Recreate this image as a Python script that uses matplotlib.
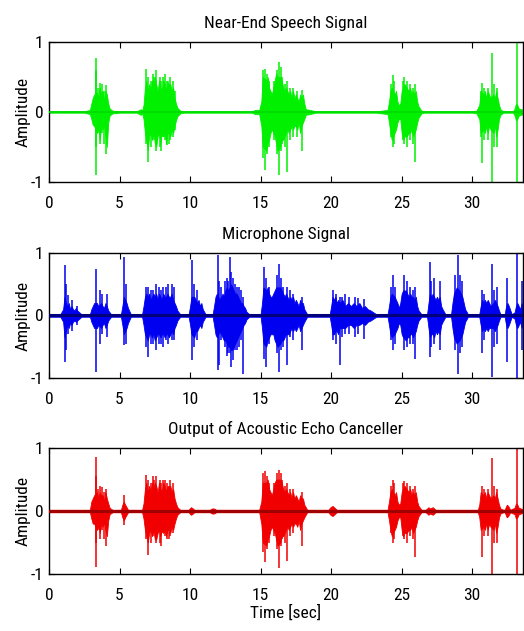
import matplotlib
matplotlib.use("Agg")
import matplotlib.pyplot as plt
from matplotlib import font_manager

# ---------------- data ----------------
x_ticks = [0, 5, 10, 15, 20, 25, 30]
y_ticks = [-1, 0, 1]
x_max = 33.6

titles = ["Near-End Speech Signal", "Microphone Signal", "Output of Acoustic Echo Canceller"]
y_label = "Amplitude"
x_label = "Time [sec]"

# Near-end speech: envelope (time, upper, lower) and isolated peaks
near_t = ([0.0] +
          [2.5, 2.9, 3.0, 3.1, 3.2, 3.4, 3.5, 3.6, 3.7, 3.8, 3.9, 4.0, 4.1, 4.2, 4.3, 4.5, 5.0] +
          [6.2, 6.5, 6.6, 6.7, 6.8, 6.9, 7.0, 7.1, 7.2, 7.3, 7.4, 7.5, 7.6, 7.7, 7.8, 7.9, 8.0, 8.1, 8.2, 8.3,
           8.4, 8.5, 8.6, 8.7, 8.8, 8.9, 9.0, 9.1, 9.3, 9.6] +
          [14.4, 14.6, 14.9, 15.05, 15.15, 15.4, 15.5, 15.6, 15.7, 15.8, 15.9, 16.0, 16.1, 16.2, 16.4, 16.5,
           16.6, 16.7, 16.8, 16.9, 17.0, 17.1, 17.2, 17.3, 17.4, 17.5, 17.6, 17.7, 17.8, 17.9, 18.0, 18.1,
           18.2, 18.5, 18.9] +
          [23.2, 23.6, 24.0, 24.1, 24.2, 24.3, 24.5, 24.6, 24.7, 24.8, 24.9, 25.0, 25.1, 25.2, 25.35, 25.5,
           25.6, 25.7, 25.8, 25.9, 26.0, 26.1, 26.2, 26.4, 26.6] +
          [30.0, 30.3, 30.5, 30.6, 30.8, 30.9, 31.0, 31.1, 31.2, 31.3, 31.5, 31.6, 31.7, 31.8, 31.9, 32.0, 32.2] +
          [32.9, 33.0, 33.1, 33.2, 33.3, 33.6])
near_hi = ([0.01] +
           [0.01, 0.03, 0.12, 0.20, 0.25, 0.28, 0.20, 0.35, 0.25, 0.30, 0.15, 0.30, 0.25, 0.12, 0.05, 0.02, 0.01] +
           [0.01, 0.04, 0.02, 0.10, 0.35, 0.45, 0.30, 0.40, 0.30, 0.45, 0.35, 0.50, 0.40, 0.30, 0.45, 0.35,
            0.30, 0.45, 0.40, 0.30, 0.45, 0.35, 0.40, 0.30, 0.35, 0.20, 0.12, 0.06, 0.02, 0.01] +
           [0.01, 0.03, 0.03, 0.15, 0.50, 0.45, 0.50, 0.35, 0.30, 0.25, 0.35, 0.45, 0.55, 0.50, 0.50, 0.45,
            0.35, 0.30, 0.35, 0.30, 0.25, 0.30, 0.20, 0.30, 0.20, 0.25, 0.20, 0.15, 0.25, 0.20, 0.25, 0.12,
            0.04, 0.03, 0.01] +
           [0.01, 0.02, 0.03, 0.15, 0.30, 0.35, 0.25, 0.30, 0.15, 0.10, 0.12, 0.30, 0.35, 0.40, 0.35, 0.30,
            0.35, 0.25, 0.30, 0.25, 0.30, 0.15, 0.08, 0.02, 0.01] +
           [0.01, 0.02, 0.10, 0.30, 0.25, 0.30, 0.20, 0.30, 0.25, 0.20, 0.25, 0.20, 0.30, 0.20, 0.10, 0.04, 0.01] +
           [0.01, 0.05, 0.12, 0.10, 0.05, 0.03])
near_lo = ([-0.01] +
           [-0.01, -0.03, -0.10, -0.18, -0.20, -0.30, -0.22, -0.40, -0.20, -0.25, -0.18, -0.35, -0.50, -0.15,
            -0.05, -0.02, -0.01] +
           [-0.01, -0.04, -0.02, -0.10, -0.30, -0.40, -0.55, -0.35, -0.30, -0.40, -0.30, -0.45, -0.50, -0.35,
            -0.30, -0.45, -0.30, -0.35, -0.30, -0.45, -0.30, -0.30, -0.35, -0.25, -0.30, -0.20, -0.12, -0.06,
            -0.02, -0.01] +
           [-0.01, -0.03, -0.03, -0.20, -0.50, -0.55, -0.45, -0.40, -0.30, -0.25, -0.30, -0.35, -0.45, -0.55,
            -0.50, -0.40, -0.40, -0.35, -0.30, -0.25, -0.30, -0.25, -0.20, -0.25, -0.20, -0.20, -0.25, -0.15,
            -0.30, -0.20, -0.15, -0.10, -0.04, -0.03, -0.01] +
           [-0.01, -0.02, -0.03, -0.15, -0.30, -0.40, -0.30, -0.25, -0.15, -0.10, -0.10, -0.30, -0.40, -0.35,
            -0.35, -0.30, -0.30, -0.25, -0.35, -0.30, -0.25, -0.15, -0.08, -0.02, -0.01] +
           [-0.01, -0.02, -0.10, -0.30, -0.25, -0.30, -0.20, -0.30, -0.20, -0.25, -0.30, -0.20, -0.35, -0.25,
            -0.10, -0.04, -0.01] +
           [-0.01, -0.05, -0.12, -0.10, -0.05, -0.03])
near_peak_t = ([3.3, 3.35, 3.6, 3.75, 4.05, 3.5, 3.9] +
               [6.9, 7.05, 7.35, 7.6, 7.85, 8.2, 8.35, 8.6, 8.8, 7.2, 7.45, 7.95, 8.05, 8.5, 8.95] +
               [15.2, 15.3, 15.45, 16.15, 16.3, 16.45, 16.85, 17.3, 17.9, 15.6, 15.95, 16.55, 16.7, 17.1, 17.6] +
               [24.35, 24.45, 25.2, 25.35, 25.6, 25.95, 24.25, 25.1, 25.8] +
               [30.7, 30.85, 31.4, 31.55, 31.75, 31.1, 30.6] + [33.15])
near_peak_hi = ([0.77, 0.60, 0.42, 0.40, 0.38, 0.35, 0.30] +
                [0.62, 0.50, 0.55, 0.60, 0.50, 0.55, 0.45, 0.50, 0.45, 0.45, 0.50, 0.45, 0.50, 0.40, 0.30] +
                [0.60, 0.62, 0.55, 0.60, 0.72, 0.65, 0.45, 0.35, 0.31, 0.45, 0.45, 0.50, 0.40, 0.35, 0.30] +
                [0.53, 0.45, 0.50, 0.45, 0.40, 0.40, 0.40, 0.45, 0.35] +
                [0.41, 0.35, 0.84, 0.40, 0.35, 0.35, 0.30] + [1.0])
near_peak_lo = ([-0.90, -0.50, -0.45, -0.30, -0.60, -0.30, -0.45] +
                [-0.45, -0.71, -0.40, -0.55, -0.50, -0.40, -0.47, -0.40, -0.35, -0.50, -0.35, -0.55, -0.35,
                 -0.45, -0.25] +
                [-0.65, -0.83, -0.60, -0.60, -0.90, -0.55, -0.85, -0.35, -0.55, -0.50, -0.40, -0.45, -0.50,
                 -0.40, -0.35] +
                [-0.50, -0.45, -0.45, -0.50, -0.40, -0.71, -0.35, -0.40, -0.45] +
                [-0.73, -0.40, -1.0, -0.50, -0.50, -0.40, -0.35] + [-1.0])

# Microphone signal
mic_t = ([0.0] +
         [0.8, 1.0, 1.1, 1.2, 1.3, 1.4, 1.5, 1.6, 1.7, 1.8, 1.9, 2.0, 2.1, 2.3] +
         [2.9, 3.0, 3.1, 3.2, 3.4, 3.5, 3.7, 3.8, 3.9, 4.0, 4.1, 4.2, 4.4] +
         [5.1, 5.2, 5.3, 5.4, 5.5, 5.6, 5.8] +
         [6.6, 6.7, 6.8, 6.9, 7.0, 7.1, 7.2, 7.3, 7.4, 7.5, 7.6, 7.7, 7.8, 7.9, 8.0, 8.1, 8.2, 8.3, 8.4,
          8.5, 8.6, 8.7, 8.8, 8.9, 9.0, 9.1, 9.3] +
         [9.9, 10.0, 10.1, 10.3, 10.4, 10.5, 10.6, 10.7, 10.8, 10.9, 11.1] +
         [11.6, 11.7, 11.8, 11.9, 12.0, 12.1, 12.2, 12.3, 12.4, 12.5, 12.6, 12.7, 12.8, 12.9, 13.0, 13.1,
          13.2, 13.3, 13.4, 13.5, 13.6, 13.7, 13.8, 13.9, 14.0, 14.2] +
         [15.0, 15.1, 15.2, 15.4, 15.5, 15.6, 15.7, 15.8, 15.9, 16.0, 16.1, 16.2, 16.4, 16.5, 16.6, 16.7,
          16.8, 16.9, 17.0, 17.1, 17.2, 17.3, 17.4, 17.5, 17.6, 17.7, 17.8, 17.9, 18.0, 18.1, 18.3] +
         [19.9, 20.0, 20.1, 20.2, 20.3, 20.4, 20.5, 20.6, 20.8, 21.0, 21.2, 21.4, 21.6, 21.8, 22.0, 22.2,
          22.4, 22.6, 22.8, 23.0, 23.2] +
         [24.0, 24.1, 24.2, 24.3, 24.5, 24.6, 24.7, 24.8, 24.9, 25.0, 25.1, 25.3, 25.4, 25.5, 25.6, 25.7,
          25.8, 25.9, 26.0, 26.1, 26.2, 26.4] +
         [26.8, 26.9, 27.0, 27.1, 27.2, 27.3, 27.4, 27.5, 27.6, 27.7, 27.8, 27.9, 28.1] +
         [28.5, 28.6, 28.7, 28.8, 28.9, 29.1, 29.2, 29.3, 29.4, 29.5, 29.7] +
         [30.5, 30.6, 30.7, 30.8, 30.9, 31.0, 31.1, 31.2, 31.3, 31.5, 31.6, 31.7, 31.8, 31.9, 32.0] +
         [32.3, 32.4, 32.5, 32.6, 32.8] +
         [33.0, 33.1, 33.2, 33.3, 33.4, 33.5, 33.6])
mic_hi = ([0.02] +
          [0.02, 0.10, 0.30, 0.20, 0.15, 0.20, 0.10, 0.15, 0.10, 0.08, 0.12, 0.08, 0.06, 0.02] +
          [0.02, 0.10, 0.15, 0.20, 0.20, 0.15, 0.20, 0.15, 0.12, 0.20, 0.15, 0.08, 0.02] +
          [0.02, 0.15, 0.30, 0.25, 0.20, 0.12, 0.02] +
          [0.02, 0.15, 0.30, 0.35, 0.30, 0.35, 0.25, 0.30, 0.35, 0.30, 0.35, 0.25, 0.35, 0.30, 0.25, 0.35,
           0.30, 0.30, 0.35, 0.30, 0.30, 0.35, 0.25, 0.20, 0.15, 0.08, 0.02] +
          [0.02, 0.15, 0.30, 0.30, 0.25, 0.20, 0.25, 0.15, 0.20, 0.10, 0.02] +
          [0.02, 0.15, 0.30, 0.35, 0.30, 0.25, 0.30, 0.35, 0.30, 0.40, 0.45, 0.40, 0.45, 0.50, 0.45, 0.40,
           0.35, 0.35, 0.30, 0.25, 0.20, 0.20, 0.15, 0.12, 0.06, 0.02] +
          [0.02, 0.20, 0.45, 0.40, 0.45, 0.35, 0.30, 0.30, 0.35, 0.40, 0.45, 0.45, 0.45, 0.40, 0.35, 0.30,
           0.35, 0.30, 0.25, 0.30, 0.25, 0.30, 0.20, 0.25, 0.20, 0.15, 0.25, 0.20, 0.20, 0.10, 0.02] +
          [0.02, 0.15, 0.30, 0.25, 0.30, 0.20, 0.25, 0.20, 0.25, 0.15, 0.20, 0.15, 0.20, 0.15, 0.20, 0.12,
           0.15, 0.10, 0.08, 0.05, 0.02] +
          [0.02, 0.15, 0.30, 0.35, 0.30, 0.25, 0.20, 0.12, 0.20, 0.35, 0.40, 0.40, 0.35, 0.30, 0.35, 0.30,
           0.30, 0.25, 0.30, 0.15, 0.08, 0.02] +
          [0.02, 0.20, 0.35, 0.30, 0.35, 0.30, 0.25, 0.30, 0.25, 0.30, 0.15, 0.10, 0.02] +
          [0.02, 0.20, 0.35, 0.40, 0.45, 0.40, 0.35, 0.30, 0.20, 0.10, 0.02] +
          [0.02, 0.15, 0.25, 0.20, 0.25, 0.20, 0.25, 0.20, 0.15, 0.20, 0.25, 0.20, 0.15, 0.08, 0.02] +
          [0.02, 0.15, 0.20, 0.15, 0.02] +
          [0.05, 0.15, 0.20, 0.15, 0.10, 0.20, 0.10])
mic_lo = ([-0.02] +
          [-0.02, -0.10, -0.35, -0.25, -0.15, -0.20, -0.12, -0.15, -0.10, -0.08, -0.10, -0.08, -0.06, -0.02] +
          [-0.02, -0.10, -0.15, -0.20, -0.20, -0.15, -0.20, -0.15, -0.12, -0.20, -0.15, -0.08, -0.02] +
          [-0.02, -0.15, -0.30, -0.25, -0.20, -0.12, -0.02] +
          [-0.02, -0.15, -0.30, -0.35, -0.40, -0.30, -0.30, -0.35, -0.30, -0.40, -0.35, -0.30, -0.30, -0.35,
           -0.30, -0.30, -0.35, -0.30, -0.30, -0.35, -0.30, -0.25, -0.30, -0.20, -0.15, -0.08, -0.02] +
          [-0.02, -0.15, -0.30, -0.35, -0.25, -0.25, -0.20, -0.15, -0.20, -0.10, -0.02] +
          [-0.02, -0.15, -0.30, -0.35, -0.30, -0.25, -0.30, -0.35, -0.40, -0.40, -0.45, -0.50, -0.50, -0.55,
           -0.55, -0.50, -0.45, -0.40, -0.35, -0.30, -0.25, -0.20, -0.15, -0.12, -0.06, -0.02] +
          [-0.02, -0.20, -0.45, -0.50, -0.40, -0.35, -0.30, -0.30, -0.30, -0.40, -0.45, -0.50, -0.45, -0.40,
           -0.40, -0.35, -0.30, -0.30, -0.30, -0.25, -0.20, -0.25, -0.20, -0.25, -0.20, -0.15, -0.25, -0.20,
           -0.15, -0.10, -0.02] +
          [-0.02, -0.15, -0.30, -0.30, -0.25, -0.25, -0.30, -0.20, -0.20, -0.20, -0.15, -0.15, -0.20, -0.15,
           -0.15, -0.12, -0.15, -0.10, -0.08, -0.05, -0.02] +
          [-0.02, -0.15, -0.30, -0.35, -0.30, -0.25, -0.20, -0.12, -0.15, -0.30, -0.35, -0.40, -0.35, -0.35,
           -0.30, -0.30, -0.35, -0.30, -0.25, -0.15, -0.08, -0.02] +
          [-0.02, -0.20, -0.35, -0.30, -0.30, -0.35, -0.25, -0.30, -0.25, -0.30, -0.15, -0.10, -0.02] +
          [-0.02, -0.20, -0.35, -0.40, -0.45, -0.40, -0.35, -0.30, -0.20, -0.10, -0.02] +
          [-0.02, -0.15, -0.25, -0.20, -0.25, -0.20, -0.25, -0.20, -0.20, -0.20, -0.25, -0.20, -0.15, -0.08, -0.02] +
          [-0.02, -0.15, -0.20, -0.15, -0.02] +
          [-0.05, -0.15, -0.20, -0.15, -0.10, -0.20, -0.10])
mic_peak_t = ([1.13, 1.2, 1.37, 1.6, 1.95] + [3.3, 3.6, 3.75, 4.1] + [5.35, 5.45] +
              [6.9, 7.05, 7.4, 7.6, 7.8, 8.1, 8.45, 8.7, 8.85, 7.2, 7.95, 8.3] + [10.15, 10.25, 10.5] +
              [11.95, 12.05, 12.45, 12.6, 12.8, 12.9, 13.05, 13.3, 13.45, 13.6, 13.76, 12.2, 12.7, 13.2] +
              [15.25, 15.35, 16.15, 16.3, 16.45, 16.85, 17.3, 17.9, 15.6, 16.6, 17.1] +
              [20.15, 20.35, 20.6, 21.0, 21.3, 21.7, 22.3, 20.8, 21.9] +
              [24.4, 24.5, 25.2, 25.35, 25.6, 25.95, 24.25, 25.8] + [27.0, 27.1, 27.3, 27.7] +
              [28.75, 29.0, 29.1, 29.3] + [30.7, 30.85, 31.4, 31.55, 31.75] + [32.5] + [33.15, 33.5])
mic_peak_hi = ([0.80, 0.50, 0.33, 0.25, 0.15] + [0.75, 0.40, 0.35, 0.35] + [0.94, 0.50] +
               [0.45, 0.45, 0.40, 0.50, 0.45, 0.45, 0.50, 0.50, 0.45, 0.40, 0.40, 0.45] + [0.88, 0.50, 0.40] +
               [0.96, 0.55, 0.55, 0.60, 0.94, 0.70, 0.60, 0.45, 0.45, 0.40, 0.30, 0.45, 0.55, 0.50] +
               [0.78, 0.60, 0.65, 0.83, 0.60, 0.45, 0.35, 0.30, 0.45, 0.45, 0.40] +
               [0.40, 0.35, 0.30, 0.35, 0.30, 0.30, 0.27, 0.30, 0.28] +
               [0.64, 0.45, 0.64, 0.55, 0.45, 0.45, 0.45, 0.40] + [0.86, 0.55, 0.60, 0.55] +
               [0.65, 0.96, 0.65, 0.55] + [0.40, 0.35, 0.83, 0.40, 0.45] + [0.60] + [1.0, 0.55])
mic_peak_lo = ([-0.75, -0.55, -0.30, -0.25, -0.15] + [-0.90, -0.45, -0.30, -0.35] + [-0.48, -0.45] +
               [-0.50, -0.67, -0.45, -0.55, -0.45, -0.50, -0.45, -0.40, -0.40, -0.45, -0.45, -0.40] +
               [-0.72, -0.50, -0.40] +
               [-0.88, -0.80, -0.50, -0.65, -0.60, -0.83, -0.72, -0.55, -0.50, -0.40, -0.93, -0.40, -0.60,
                -0.55] +
               [-0.70, -0.83, -0.60, -0.91, -0.55, -0.80, -0.40, -0.55, -0.45, -0.50, -0.35] +
               [-0.40, -0.45, -0.80, -0.30, -0.30, -0.35, -0.37, -0.35, -0.30] +
               [-0.55, -0.45, -0.56, -0.50, -0.45, -0.70, -0.40, -0.45] + [-0.67, -0.50, -0.45, -0.55] +
               [-0.55, -0.94, -0.60, -0.50] + [-0.60, -0.40, -0.99, -0.50, -0.45] + [-0.75] + [-1.0, -0.55])

# Echo canceller output
out_t = ([0.0] +
         [2.9, 3.0, 3.1, 3.2, 3.4, 3.5, 3.6, 3.7, 3.8, 3.9, 4.0, 4.1, 4.2, 4.3, 4.5] +
         [5.1, 5.2, 5.3, 5.4, 5.6] +
         [6.6, 6.7, 6.8, 6.9, 7.0, 7.1, 7.2, 7.3, 7.4, 7.5, 7.6, 7.7, 7.8, 7.9, 8.0, 8.1, 8.2, 8.3, 8.4,
          8.5, 8.6, 8.7, 8.8, 8.9, 9.0, 9.1, 9.3] +
         [9.9, 10.05, 10.15, 10.3] +
         [11.4, 11.55, 11.7, 11.85] +
         [14.9, 15.05, 15.15, 15.4, 15.5, 15.6, 15.7, 15.8, 15.9, 16.0, 16.1, 16.2, 16.4, 16.5, 16.6, 16.7,
          16.8, 16.9, 17.0, 17.1, 17.2, 17.3, 17.4, 17.5, 17.6, 17.7, 17.8, 17.9, 18.0, 18.1, 18.3] +
         [19.8, 19.95, 20.1, 20.25, 20.4] +
         [24.0, 24.1, 24.2, 24.3, 24.5, 24.6, 24.7, 24.8, 24.9, 25.0, 25.1, 25.2, 25.35, 25.5, 25.6, 25.7,
          25.8, 25.9, 26.0, 26.1, 26.2, 26.4] +
         [26.7, 26.9, 27.0, 27.1, 27.2, 27.4] +
         [30.4, 30.5, 30.6, 30.8, 30.9, 31.0, 31.1, 31.2, 31.3, 31.5, 31.6, 31.7, 31.8, 31.9, 32.0, 32.2] +
         [32.3, 32.45, 32.55, 32.7] +
         [33.0, 33.1, 33.2, 33.3, 33.6])
out_hi = ([0.02] +
          [0.02, 0.15, 0.20, 0.25, 0.30, 0.20, 0.30, 0.25, 0.25, 0.15, 0.30, 0.20, 0.12, 0.05, 0.02] +
          [0.02, 0.10, 0.15, 0.10, 0.02] +
          [0.02, 0.12, 0.35, 0.45, 0.30, 0.40, 0.30, 0.45, 0.35, 0.45, 0.40, 0.30, 0.45, 0.35, 0.30, 0.45,
           0.40, 0.30, 0.40, 0.35, 0.40, 0.30, 0.35, 0.20, 0.12, 0.06, 0.02] +
          [0.02, 0.06, 0.05, 0.02] +
          [0.02, 0.04, 0.04, 0.02] +
          [0.02, 0.15, 0.45, 0.45, 0.50, 0.35, 0.30, 0.25, 0.35, 0.45, 0.50, 0.50, 0.50, 0.45, 0.35, 0.30,
           0.35, 0.30, 0.25, 0.30, 0.20, 0.30, 0.20, 0.25, 0.20, 0.15, 0.25, 0.20, 0.20, 0.10, 0.02] +
          [0.02, 0.06, 0.08, 0.05, 0.02] +
          [0.02, 0.15, 0.30, 0.35, 0.25, 0.30, 0.15, 0.10, 0.12, 0.30, 0.35, 0.40, 0.35, 0.30, 0.35, 0.25,
           0.30, 0.25, 0.30, 0.15, 0.08, 0.02] +
          [0.02, 0.06, 0.04, 0.05, 0.06, 0.02] +
          [0.02, 0.10, 0.30, 0.25, 0.30, 0.20, 0.30, 0.25, 0.20, 0.25, 0.20, 0.30, 0.20, 0.10, 0.04, 0.02] +
          [0.02, 0.10, 0.08, 0.02] +
          [0.05, 0.12, 0.10, 0.05, 0.03])
out_lo = ([-0.02] +
          [-0.02, -0.12, -0.20, -0.20, -0.30, -0.22, -0.35, -0.20, -0.25, -0.18, -0.30, -0.40, -0.15, -0.05, -0.02] +
          [-0.02, -0.10, -0.15, -0.10, -0.02] +
          [-0.02, -0.12, -0.30, -0.40, -0.50, -0.35, -0.30, -0.40, -0.30, -0.45, -0.45, -0.35, -0.30, -0.40,
           -0.30, -0.35, -0.30, -0.40, -0.30, -0.30, -0.35, -0.25, -0.30, -0.20, -0.12, -0.06, -0.02] +
          [-0.02, -0.06, -0.05, -0.02] +
          [-0.02, -0.04, -0.04, -0.02] +
          [-0.02, -0.20, -0.50, -0.55, -0.45, -0.40, -0.30, -0.25, -0.30, -0.35, -0.45, -0.55, -0.50, -0.40,
           -0.40, -0.35, -0.30, -0.25, -0.30, -0.25, -0.20, -0.25, -0.20, -0.20, -0.25, -0.15, -0.30, -0.20,
           -0.15, -0.10, -0.02] +
          [-0.02, -0.06, -0.08, -0.05, -0.02] +
          [-0.02, -0.15, -0.30, -0.40, -0.30, -0.25, -0.15, -0.10, -0.10, -0.30, -0.40, -0.35, -0.35, -0.30,
           -0.30, -0.25, -0.35, -0.30, -0.25, -0.15, -0.08, -0.02] +
          [-0.02, -0.06, -0.04, -0.05, -0.06, -0.02] +
          [-0.02, -0.10, -0.30, -0.25, -0.30, -0.20, -0.30, -0.20, -0.25, -0.30, -0.20, -0.35, -0.25, -0.10,
           -0.04, -0.02] +
          [-0.02, -0.10, -0.08, -0.02] +
          [-0.05, -0.12, -0.10, -0.05, -0.03])
out_peak_t = ([3.3, 3.35, 3.6, 3.75, 4.05, 3.5, 3.9] + [5.3] +
              [6.9, 7.05, 7.35, 7.6, 7.85, 8.2, 8.35, 8.6, 8.8, 7.2, 7.45, 7.95, 8.05, 8.5] +
              [15.2, 15.3, 15.45, 16.15, 16.3, 16.45, 16.85, 17.3, 17.9, 15.6, 15.95, 16.55, 16.7, 17.1] +
              [24.35, 24.45, 25.2, 25.35, 25.6, 25.95, 24.25, 25.1, 25.8] +
              [30.7, 30.85, 31.4, 31.55, 31.75, 31.1] + [33.15])
out_peak_hi = ([0.85, 0.55, 0.40, 0.38, 0.35, 0.35, 0.30] + [0.25] +
               [0.57, 0.50, 0.55, 0.55, 0.50, 0.50, 0.45, 0.50, 0.45, 0.45, 0.50, 0.45, 0.50, 0.40] +
               [0.60, 0.63, 0.55, 0.60, 0.65, 0.60, 0.45, 0.35, 0.30, 0.45, 0.45, 0.50, 0.40, 0.35] +
               [0.50, 0.45, 0.48, 0.45, 0.40, 0.40, 0.40, 0.45, 0.35] +
               [0.40, 0.35, 0.84, 0.40, 0.35, 0.35] + [1.0])
out_peak_lo = ([-0.89, -0.50, -0.45, -0.30, -0.55, -0.30, -0.45] + [-0.22] +
               [-0.45, -0.70, -0.40, -0.50, -0.50, -0.40, -0.45, -0.40, -0.35, -0.50, -0.35, -0.55, -0.35,
                -0.45] +
               [-0.65, -0.81, -0.60, -0.60, -0.91, -0.55, -0.80, -0.35, -0.55, -0.50, -0.40, -0.45, -0.50,
                -0.40] +
               [-0.50, -0.45, -0.45, -0.50, -0.40, -0.73, -0.35, -0.40, -0.45] +
               [-0.73, -0.40, -1.0, -0.50, -0.50, -0.40] + [-1.0])

# ---------------- styling ----------------
plt.rcParams["axes.unicode_minus"] = False

def pick_font():
    fl = font_manager.fontManager.ttflist
    prefs = ["Liberation Sans Narrow", "Roboto Condensed", "Open Sans Condensed",
             "DejaVu Sans Condensed", "Noto Sans Condensed"]
    for p in prefs:
        for f in fl:
            if f.name == p and f.style == "normal" and f.weight in (400, "normal", "regular"):
                return f.fname
    for f in fl:
        if f.style == "normal" and f.weight in (400, "normal", "regular") and \
                ("Condensed" in f.fname or "Narrow" in f.fname):
            if "Bold" not in f.fname and "Italic" not in f.fname and "Oblique" not in f.fname:
                return f.fname
    return None

fname = pick_font()
if fname:
    fp = font_manager.FontProperties(fname=fname, size=12.5)
else:
    fp = font_manager.FontProperties(family="Liberation Sans", size=11)

fig = plt.figure(figsize=(5.24, 6.31), dpi=100)
W, H = 524.0, 631.0
boxes = [(42, 182), (253, 378), (448, 574)]
left_px, right_px = 49, 523

panels = [
    (near_t, near_hi, near_lo, near_peak_t, near_peak_hi, near_peak_lo, "#00f000", "#00dc00", 1.3),
    (mic_t, mic_hi, mic_lo, mic_peak_t, mic_peak_hi, mic_peak_lo, "#0000f0", "#00007a", 2.2),
    (out_t, out_hi, out_lo, out_peak_t, out_peak_hi, out_peak_lo, "#f00000", "#a00000", 2.2),
]

for i, ((top, bot), p) in enumerate(zip(boxes, panels)):
    t, hi, lo, pt, phi, plo, col, basecol, basew = p
    ax = fig.add_axes([left_px / W, 1 - bot / H, (right_px - left_px) / W, (bot - top) / H])
    ax.fill_between(t, lo, hi, color=col, linewidth=0.6, edgecolor=col, zorder=2)
    ax.vlines(pt, plo, phi, color=col, linewidth=1.1, zorder=2)
    ax.axhline(0, color=basecol, linewidth=basew, zorder=3)
    ax.set_xlim(0, x_max)
    ax.set_ylim(-1, 1)
    ax.set_xticks(x_ticks)
    ax.set_yticks(y_ticks)
    ax.tick_params(direction="in", top=True, right=True, length=4, width=0.8)
    ax.tick_params(axis="x", pad=10)
    ax.tick_params(axis="y", pad=4)
    for lab in ax.get_xticklabels() + ax.get_yticklabels():
        lab.set_fontproperties(fp)
    for s in ax.spines.values():
        s.set_linewidth(1.0)
    ax.set_title(titles[i], fontproperties=fp, pad=10)
    ax.set_ylabel(y_label, fontproperties=fp, labelpad=0)
    if i == 2:
        ax.set_xlabel(x_label, fontproperties=fp, labelpad=1)

fig.savefig("out.png", dpi=100)
